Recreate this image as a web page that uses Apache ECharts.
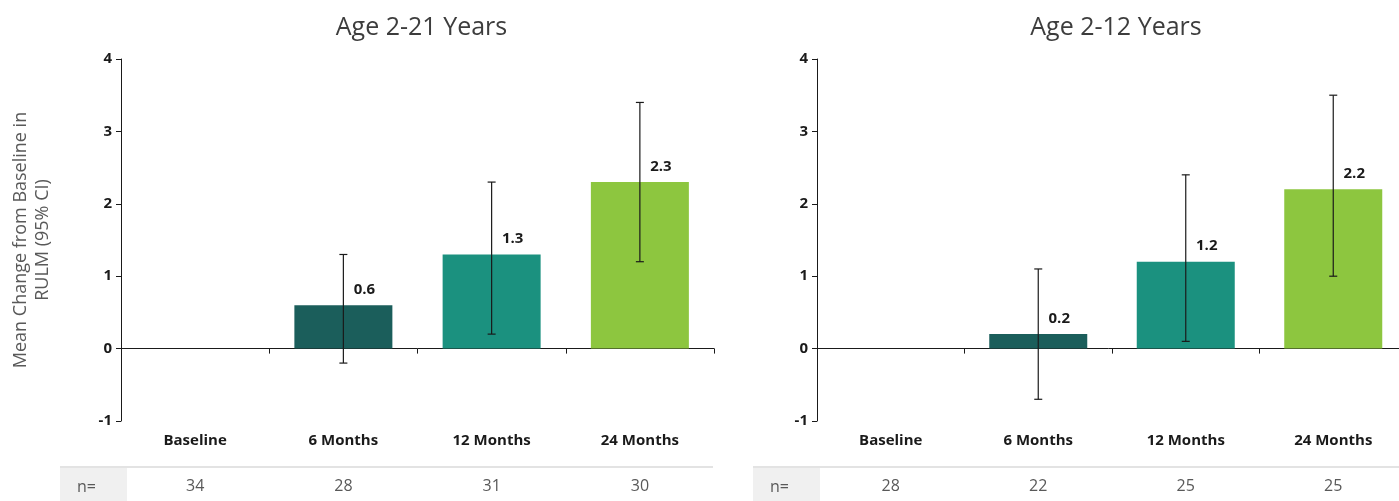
<!DOCTYPE html>
<html><head><meta charset="utf-8">
<script src="https://cdn.jsdelivr.net/npm/echarts@6/dist/echarts.min.js"></script>
<style>html,body{margin:0;padding:0;background:#fff}#c{width:1399px;height:501px}</style>
</head><body><div id="c"></div>
<script>
const categories = ['Baseline', '6 Months', '12 Months', '24 Months'];
const panelTitles = ['Age 2-21 Years', 'Age 2-12 Years'];
const meanA = [0, 0.6, 1.3, 2.3];
const lowA = [null, -0.2, 0.2, 1.2];
const highA = [null, 1.3, 2.3, 3.4];
const nA = [34, 28, 31, 30];
const meanB = [0, 0.2, 1.2, 2.2];
const lowB = [null, -0.7, 0.1, 1.0];
const highB = [null, 1.1, 2.4, 3.5];
const nB = [28, 22, 25, 25];
const yMin = -1, yMax = 4, yStep = 1;
const yAxisName = 'Mean Change from Baseline in\nRULM (95% CI)';
const nLabel = 'n=';

const FONT = 'Open Sans';
const barColors = ['#1b5e5b', '#1b5e5b', '#1b917f', '#8dc63f'];
const gridBoxes = [
  {left: 121, width: 593, top: 59, height: 362},
  {left: 817, width: 590, top: 59, height: 362}
];
const panels = [
  {mean: meanA, low: lowA, high: highA, n: nA, title: panelTitles[0]},
  {mean: meanB, low: lowB, high: highB, n: nB, title: panelTitles[1]}
];

function renderErr(params, api) {
  const x = api.value(0);
  const lo = api.coord([x, api.value(1)]);
  const hi = api.coord([x, api.value(2)]);
  const cap = 4;
  const style = {stroke: '#1a1a1a', lineWidth: 1.2};
  return {type: 'group', children: [
    {type: 'line', shape: {x1: lo[0], y1: lo[1], x2: hi[0], y2: hi[1]}, style},
    {type: 'line', shape: {x1: lo[0] - cap, y1: lo[1], x2: lo[0] + cap, y2: lo[1]}, style},
    {type: 'line', shape: {x1: hi[0] - cap, y1: hi[1], x2: hi[0] + cap, y2: hi[1]}, style}
  ]};
}

const grid = [], xAxis = [], yAxis = [], series = [], title = [], graphic = [];
panels.forEach((p, i) => {
  const g = gridBoxes[i];
  grid.push(Object.assign({outerBoundsMode: 'none', containLabel: false}, g));
  title.push({
    text: p.title, left: g.left + g.width / 2 - 1, top: 10, textAlign: 'center',
    textStyle: {fontFamily: FONT, fontSize: 25, fontWeight: 500, color: '#3d3d3d'}
  });
  // category labels
  xAxis.push({
    type: 'category', gridIndex: i, data: categories, position: 'bottom',
    axisLine: {show: false, onZero: false}, axisTick: {show: false},
    axisLabel: {margin: 12, fontFamily: FONT, fontSize: 15, fontWeight: 'bold', color: '#1a1a1a'}
  });
  // zero line with boundary ticks
  xAxis.push({
    type: 'category', gridIndex: i, data: categories, position: 'bottom',
    axisLine: {show: true, onZero: true, lineStyle: {color: '#1a1a1a', width: 1}},
    axisTick: {show: true, length: 5, lineStyle: {color: '#1a1a1a'}},
    axisLabel: {show: false}
  });
  // n row
  xAxis.push({
    type: 'category', gridIndex: i, data: p.n.map(String), position: 'bottom',
    axisLine: {show: false, onZero: false}, axisTick: {show: false},
    axisLabel: {margin: 57, fontFamily: FONT, fontSize: 16, color: '#595959'}
  });
  yAxis.push({
    type: 'value', gridIndex: i, min: yMin, max: yMax, interval: yStep,
    splitLine: {show: false},
    axisLine: {show: true, lineStyle: {color: '#1a1a1a', width: 1}},
    axisTick: {show: true, length: 5, lineStyle: {color: '#1a1a1a'}},
    axisLabel: {margin: 9, fontFamily: FONT, fontSize: 15, fontWeight: 'bold', color: '#1a1a1a'},
    name: i === 0 ? yAxisName : '', nameLocation: 'middle', nameGap: 67,
    nameTextStyle: {fontFamily: FONT, fontSize: 18, color: '#595959', lineHeight: 22}
  });
  series.push({
    type: 'bar', xAxisIndex: i * 3 + 1, yAxisIndex: i, barWidth: 98,
    data: p.mean.map((v, k) => ({value: v, itemStyle: {color: barColors[k]}})),
    label: {
      show: true, position: 'top', offset: [21, -3],
      formatter: (q) => q.value === 0 ? '' : q.value.toFixed(1),
      fontFamily: FONT, fontSize: 15, fontWeight: 'bold', color: '#1a1a1a'
    },
    silent: true
  });
  const errData = [];
  p.low.forEach((lo, k) => { if (lo !== null) errData.push([k, lo, p.high[k]]); });
  series.push({
    type: 'custom', xAxisIndex: i * 3 + 1, yAxisIndex: i, renderItem: renderErr,
    encode: {x: 0, y: [1, 2]}, data: errData, z: 5, silent: true
  });
  // n= row decoration
  const rowLeft = i === 0 ? 60 : 753;
  const rowRight = i === 0 ? 713 : 1399;
  graphic.push({type: 'rect', shape: {x: rowLeft, y: 468, width: 67, height: 34}, style: {fill: '#f0f0f0'}, silent: true});
  graphic.push({type: 'line', shape: {x1: rowLeft, y1: 467, x2: rowRight, y2: 467}, style: {stroke: '#e3e3e3', lineWidth: 2}, silent: true});
  graphic.push({type: 'text', x: rowLeft + 17, y: 487, style: {text: nLabel, fontFamily: FONT, fontSize: 16, fill: '#595959', verticalAlign: 'middle'}, silent: true});
});

const chart = echarts.init(document.getElementById('c'), null, {renderer: 'canvas'});
chart.setOption({animation: false, backgroundColor: '#ffffff', title, grid, xAxis, yAxis, series, graphic});
</script>
</body></html>
